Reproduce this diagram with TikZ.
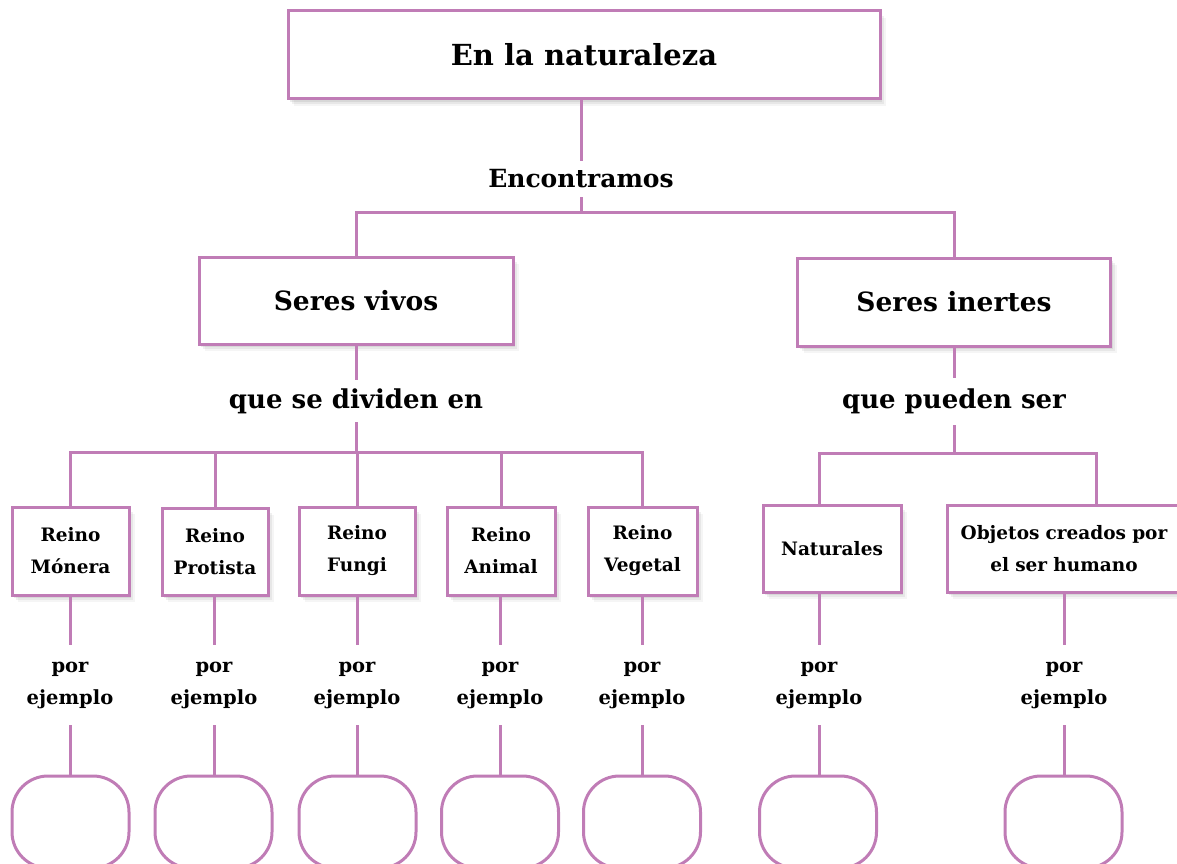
\documentclass[tikz,border=0pt]{standalone}
\usepackage{fontspec}
\setmainfont{DejaVu Serif}
\usetikzlibrary{shadows}
\definecolor{pinkc}{RGB}{192,124,182}
\tikzset{
  x=1pt, y=-1pt,
  conn/.style={draw=pinkc, line width=3pt},
  boxbase/.style={draw=pinkc, line width=3pt, fill=white, align=center, inner sep=0pt,
    drop shadow={opacity=0.08, shadow xshift=6pt, shadow yshift=-7pt},
    drop shadow={opacity=0.12, shadow xshift=4pt, shadow yshift=-5pt},
    drop shadow={opacity=0.15, shadow xshift=2pt, shadow yshift=-3pt}},
  bigbox/.style={boxbase, font=\fontsize{29}{34}\selectfont\bfseries},
  midbox/.style={boxbase, font=\fontsize{26.5}{30}\selectfont\bfseries},
  smallbox/.style={boxbase, font=\fontsize{18.5}{32}\selectfont\bfseries},
  lbl/.style={inner sep=0pt, align=center, font=\fontsize{25}{30}\selectfont\bfseries},
  porlbl/.style={inner sep=0pt, align=center, minimum height=80pt, font=\fontsize{19.5}{32}\selectfont\bfseries},
  emptybox/.style={draw=pinkc, line width=3pt, fill=white, rounded corners=36pt, minimum width=117pt, minimum height=92pt, inner sep=0pt},
}
\begin{document}
\begin{tikzpicture}
\useasboundingbox (0,0) rectangle (1177,864);
% top
\node[bigbox, minimum width=592pt, minimum height=88pt] (top) at (584,55) {En la naturaleza};
\node[lbl, minimum height=36pt] (enc) at (581,179) {Encontramos};
\coordinate (j1) at (581,212);
\node[midbox, minimum width=314pt, minimum height=87pt] (vivos) at (356,300.5) {Seres vivos};
\node[midbox, minimum width=313pt, minimum height=88pt] (inertes) at (954,302) {Seres inertes};
\draw[conn] (top.south -| enc.north) -- (enc.north);
\draw[conn] (enc.south) -- (j1);
\draw[conn] (vivos.north) |- (j1) -| (inertes.north);
% second level labels
\node[lbl, font=\fontsize{26}{30}\selectfont\bfseries, minimum height=42pt] (div) at (356,401) {que se dividen en};
\node[lbl, font=\fontsize{26}{30}\selectfont\bfseries, minimum height=47pt] (pue) at (954,401.5) {que pueden ser};
\draw[conn] (vivos.south) -- (div.north);
\draw[conn] (inertes.south) -- (pue.north);
% small boxes
\node[smallbox, minimum width=117pt, minimum height=88pt] (mon) at (70.5,551) {Reino\\Mónera};
\node[smallbox, minimum width=106pt, minimum height=87pt] (prot) at (215,551.5) {Reino\\Protista};
\node[smallbox, minimum width=116pt, minimum height=88pt] (fun) at (357,551) {Reino\\Fungi};
\node[smallbox, minimum width=108pt, minimum height=88pt] (ani) at (501,551) {Reino\\Animal};
\node[smallbox, minimum width=109pt, minimum height=88pt] (veg) at (642.5,551) {Reino\\Vegetal};
\node[smallbox, minimum width=138pt, minimum height=87pt] (nat) at (832,548.5) {Naturales};
\node[smallbox, minimum width=234pt, minimum height=87pt, text width=230pt] (obj) at (1064,548.5) {Objetos creados por\\el ser humano};
% bars
\coordinate (j2) at (356,452);
\coordinate (j3) at (954,453);
\draw[conn] (div.south) -- (j2);
\draw[conn] (mon.north) |- (j2) -| (veg.north);
\draw[conn] (prot.north) -- (prot.north |- j2);
\draw[conn] (fun.north) -- (fun.north |- j2);
\draw[conn] (ani.north) -- (ani.north |- j2);
\draw[conn] (pue.south) -- (j3);
\coordinate (natt) at (819,505);
\coordinate (objt) at (1096,505);
\draw[conn] (natt) |- (j3) -| (objt);
% por ejemplo labels
\node[porlbl] (p1) at (70,685) {por\\ejemplo};
\node[porlbl] (p2) at (214,685) {por\\ejemplo};
\node[porlbl] (p3) at (357,685) {por\\ejemplo};
\node[porlbl] (p4) at (500,685) {por\\ejemplo};
\node[porlbl] (p5) at (642,685) {por\\ejemplo};
\node[porlbl] (p6) at (819,685) {por\\ejemplo};
\node[porlbl] (p7) at (1064,685) {por\\ejemplo};
% empty boxes
\node[emptybox] (e1) at (70.5,822) {};
\node[emptybox] (e2) at (213.5,822) {};
\node[emptybox] (e3) at (357.5,822) {};
\node[emptybox] (e4) at (500,822) {};
\node[emptybox] (e5) at (642,822) {};
\node[emptybox] (e6) at (818,822) {};
\node[emptybox] (e7) at (1063.5,822) {};
\foreach \i/\b in {1/mon,2/prot,3/fun,4/ani,5/veg,6/nat,7/obj}{
  \draw[conn] (p\i.north |- \b.south) -- (p\i.north);
  \draw[conn] (p\i.south) -- (p\i.south |- e\i.north);
}
\end{tikzpicture}
\end{document}
